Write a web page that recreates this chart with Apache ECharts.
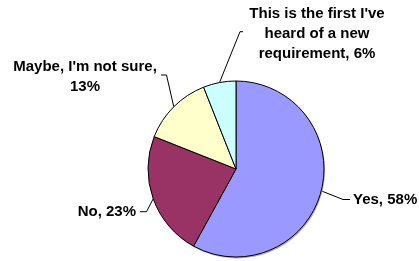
<!DOCTYPE html>
<html>
<head>
<meta charset="utf-8">
<script src="https://cdn.jsdelivr.net/npm/echarts@6/dist/echarts.min.js"></script>
<style>
  html, body { margin: 0; padding: 0; background: #fff; }
  #main { width: 419px; height: 261px; }
</style>
</head>
<body>
<div id="main"></div>
<script>
  // 数据
  var categories = ['Yes', 'No', "Maybe, I'm not sure,", "This is the first I've\nheard of a new\nrequirement,"];
  var values = [58, 23, 13, 6];
  var colors = ['#9999FF', '#993366', '#FFFFCC', '#CCFFFF'];

  // label placement: [x, y, align]  and leader [endX, endY, elbowX]
  var labelPos = [[353, 200, 'left'], [136, 212, 'right'], [85, 77, 'center'], [317, 34, 'center']];
  var leader = [[350, 199.5, 343], [140, 211.7, 146.5], [161, 75, 166.5], [243, 31.7, 240]];

  var chart = echarts.init(document.getElementById('main'), null, {renderer: 'canvas'});

  chart.setOption({
    animation: false,
    backgroundColor: '#fff',
    series: [
      {
        // shadow under the pie
        type: 'pie',
        silent: true,
        center: [237, 170.5],
        radius: 88,
        label: { show: false },
        labelLine: { show: false },
        itemStyle: { color: '#b0b0b0' },
        data: [{ value: 1 }]
      },
      {
        type: 'pie',
        center: [236, 169],
        radius: 88,
        startAngle: 90,
        clockwise: true,
        avoidLabelOverlap: false,
        itemStyle: {
          borderColor: '#000',
          borderWidth: 1
        },
        label: {
          show: true,
          position: 'outer',
          alignTo: 'none',
          color: '#000',
          fontFamily: 'Liberation Sans, Arial, sans-serif',
          fontWeight: 'bold',
          fontSize: 15,
          lineHeight: 20,
          formatter: function (p) {
            var sep = p.dataIndex >= 2 ? (p.dataIndex === 2 ? '\n' : ' ') : ', ';
            return p.name + sep + p.value + '%';
          }
        },
        labelLine: {
          show: true,
          length: 10,
          length2: 5,
          lineStyle: { color: '#000', width: 1 }
        },
        labelLayout: function (params) {
          var i = params.dataIndex;
          var pos = labelPos[i];
          var ld = leader[i];
          var anchor = params.labelLinePoints ? params.labelLinePoints[0] : [ld[2], ld[1]];
          return {
            x: pos[0],
            y: pos[1],
            align: pos[2],
            verticalAlign: 'middle',
            labelLinePoints: [anchor, [ld[2], ld[1]], [ld[0], ld[1]]]
          };
        },
        data: categories.map(function (c, i) {
          return { name: c, value: values[i], itemStyle: { color: colors[i] } };
        })
      }
    ]
  });
</script>
</body>
</html>
